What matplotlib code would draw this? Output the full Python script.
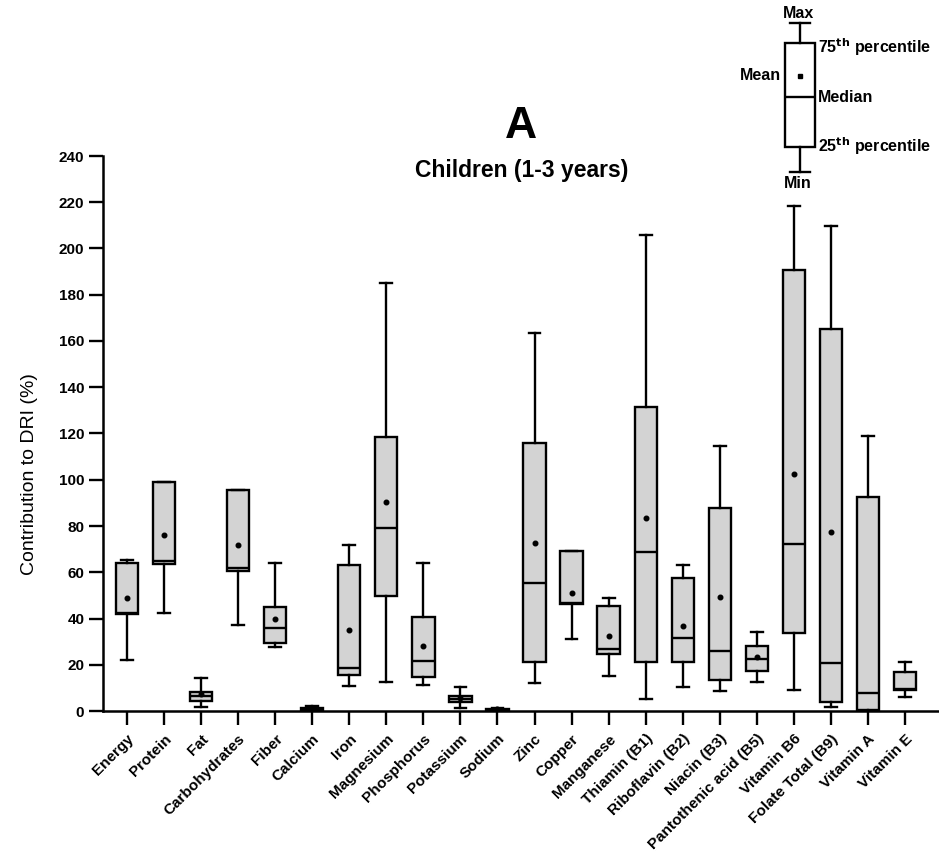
import numpy as np
import matplotlib
matplotlib.use("Agg")
import matplotlib.pyplot as plt

plt.rcParams['font.family'] = ['Liberation Sans', 'DejaVu Sans']

# Nutrient contribution to DRI (%), children 1-3 years
nutrients = ["Energy", "Protein", "Fat", "Carbohydrates", "Fiber", "Calcium", "Iron",
             "Magnesium", "Phosphorus", "Potassium", "Sodium", "Zinc", "Copper",
             "Manganese", "Thiamin (B1)", "Riboflavin (B2)", "Niacin (B3)",
             "Pantothenic acid (B5)", "Vitamin B6", "Folate Total (B9)", "Vitamin A",
             "Vitamin E"]
minimum = [22, 42.5, 1.9, 37.2, 27.5, 0, 11, 12.7, 11.2, 1.4, 0, 12.2, 31, 15.3,
           5, 10.2, 8.6, 12.7, 9.1, 1.6, 0, 5.9]
p25 = [42, 63.5, 4.5, 60.5, 29.3, 0.3, 15.6, 49.9, 14.8, 3.7, 0.2, 21.3, 46.3, 24.5,
       21.3, 21.3, 13.4, 17.4, 33.6, 3.7, 0.4, 9.1]
median = [42.5, 65, 6.5, 61.8, 36, 0.8, 18.5, 79, 21.8, 5.2, 0.6, 55.5, 46.8, 26.7,
          68.6, 31.4, 26.1, 22.3, 72.2, 20.9, 7.6, 9.5]
p75 = [64, 99, 8.4, 95.5, 45.1, 1.5, 63.1, 118.3, 40.5, 6.5, 1.0, 115.7, 69.2, 45.4,
       131.5, 57.3, 87.6, 28.3, 190.8, 165.1, 92.7, 17]
maximum = [65.5, 99, 14.1, 95.5, 63.9, 2.2, 71.8, 185, 64.1, 10.5, 1.5, 163.5, 69.2,
           48.7, 206, 63.1, 114.6, 34, 218.3, 209.7, 118.9, 21]
mean = [49, 76, 7.3, 72, 39.7, 1.0, 35, 90.5, 28.3, 5.5, 0.7, 72.5, 50.9, 32.4,
        83.6, 36.8, 49.4, 23.2, 102.5, 77.4, np.nan, np.nan]
y_ticks = list(range(0, 241, 20))

W, H = 939, 863
fig = plt.figure(figsize=(W / 100, H / 100), dpi=100)

ax_l, ax_r, ax_t, ax_b = 103, 939, 156, 711
ax = fig.add_axes([ax_l / W, 1 - ax_b / H, (ax_r - ax_l) / W, (ax_b - ax_t) / H])

stats = []
for i, name in enumerate(nutrients):
    stats.append(dict(label=name, whislo=minimum[i], q1=p25[i], med=median[i],
                      q3=p75[i], whishi=maximum[i], mean=mean[i]))

lw = 1.7
positions = np.arange(1, len(nutrients) + 1)
ax.bxp(stats, positions=positions, widths=0.6, patch_artist=True, showmeans=True,
       showfliers=False, capwidths=0.32,
       boxprops=dict(facecolor="#d3d3d3", edgecolor="black", linewidth=lw),
       medianprops=dict(color="black", linewidth=lw),
       whiskerprops=dict(color="black", linewidth=lw),
       capprops=dict(color="black", linewidth=lw),
       meanprops=dict(marker="o", markersize=3.3, markerfacecolor="black",
                      markeredgecolor="black"))

ax.set_xlim(0.35, len(nutrients) + 0.92)
ax.set_ylim(0, 240)
ax.set_yticks(y_ticks)
ax.set_yticklabels([str(t) for t in y_ticks], fontsize=11, fontweight="bold")
ax.set_xticks(positions)
ax.set_xticklabels(nutrients, rotation=45, ha="right", va="top",
                   rotation_mode="anchor", fontsize=11, fontweight="bold")
ax.tick_params(axis="both", direction="out", length=10, width=1.7, color="black")
ax.tick_params(axis="x", pad=5)
for side in ("top", "right"):
    ax.spines[side].set_visible(False)
for side in ("left", "bottom"):
    ax.spines[side].set_linewidth(1.8)

ax.set_ylabel("Contribution to DRI (%)", fontsize=14)
ax.yaxis.set_label_coords(-0.078, 0.427)

fig.text(521 / W, 1 - 127 / H, "A", ha="center", va="center",
         fontsize=32, fontweight="bold")
fig.text(522 / W, 1 - 171 / H, "Children (1-3 years)", ha="center", va="center",
         fontsize=16.5, fontweight="bold")

# Key explaining the box elements
key = fig.add_axes([770 / W, 1 - 182 / H, 60 / W, 169 / H])
key.set_xlim(0, 60)
key.set_ylim(-10, 159)
key.axis("off")
key_stats = [dict(whislo=0, q1=25, med=75, mean=96, q3=129, whishi=149)]
key.bxp(key_stats, positions=[30], widths=30, patch_artist=True, showmeans=True,
        showfliers=False, capwidths=20,
        boxprops=dict(facecolor="white", edgecolor="black", linewidth=lw),
        medianprops=dict(color="black", linewidth=lw),
        whiskerprops=dict(color="black", linewidth=lw),
        capprops=dict(color="black", linewidth=lw),
        meanprops=dict(marker="s", markersize=3.5, markerfacecolor="black",
                       markeredgecolor="black"))
kfs = 11.5
fig.text(798 / W, 1 - 13 / H, "Max", ha="center", va="center", fontsize=kfs, fontweight="bold")
fig.text(798 / W, 1 - 184 / H, "Min", ha="center", va="center", fontsize=kfs, fontweight="bold")
fig.text(781 / W, 1 - 75 / H, "Mean", ha="right", va="center", fontsize=kfs, fontweight="bold")
fig.text(818 / W, 1 - 98 / H, "Median", ha="left", va="center", fontsize=kfs, fontweight="bold")
fig.text(818 / W, 1 - 47 / H, r"75$^{\mathbf{th}}$ percentile", ha="left", va="center",
         fontsize=kfs, fontweight="bold")
fig.text(818 / W, 1 - 146 / H, r"25$^{\mathbf{th}}$ percentile", ha="left", va="center",
         fontsize=kfs, fontweight="bold")

fig.savefig("out.png", dpi=100)
